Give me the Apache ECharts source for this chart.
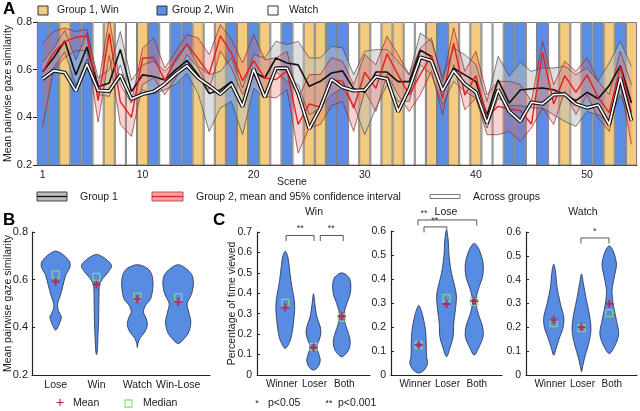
<!DOCTYPE html>
<html><head><meta charset="utf-8">
<script src="https://cdn.jsdelivr.net/npm/echarts@6/dist/echarts.min.js"></script>
<style>html,body{margin:0;padding:0;background:#fff}#c{width:640px;height:411px}</style>
</head><body><div id="c"></div>
<script>
// ---------- Panel A data ----------
const scenes = ['1','2','3','4','5','6','7','8','9','10','11','12','13','14','15','16','17','18','19','20','21','22','23','24','25','26','27','28','29','30','31','32','33','34','35','36','37','38','39','40','41','42','43','44','45','46','47','48','49','50','51','52','53','54'];
// Y = Group 1 win, B = Group 2 win, W = watch
const sceneType = ['B','B','Y','B','B','W','Y','W','W','Y','B','W','B','B','Y','W','Y','B','Y','B','Y','W','B','W','Y','Y','B','B','W','Y','W','Y','Y','W','W','Y','B','Y','W','Y','W','W','B','B','W','B','W','Y','W','B','B','Y','B','Y'];
const g1Mean = [0.59,0.65,0.72,0.578,0.695,0.528,0.544,0.685,0.508,0.578,0.571,0.557,0.6,0.638,0.58,0.5,0.515,0.55,0.455,0.59,0.565,0.649,0.628,0.62,0.53,0.551,0.586,0.595,0.52,0.505,0.59,0.59,0.55,0.55,0.682,0.655,0.515,0.606,0.578,0.55,0.41,0.557,0.46,0.515,0.52,0.523,0.516,0.495,0.47,0.505,0.478,0.533,0.617,0.46];
const g1Upper = [0.63,0.69,0.765,0.64,0.755,0.565,0.6,0.76,0.555,0.62,0.635,0.595,0.635,0.705,0.615,0.58,0.593,0.649,0.523,0.663,0.649,0.719,0.705,0.719,0.649,0.649,0.698,0.691,0.579,0.677,0.684,0.684,0.635,0.579,0.754,0.719,0.565,0.691,0.663,0.621,0.467,0.656,0.572,0.63,0.593,0.607,0.607,0.614,0.579,0.607,0.551,0.628,0.719,0.614];
const g1Lower = [0.55,0.61,0.675,0.535,0.645,0.495,0.488,0.62,0.465,0.515,0.5,0.515,0.54,0.585,0.5,0.34,0.44,0.467,0.327,0.523,0.481,0.593,0.551,0.537,0.411,0.439,0.495,0.523,0.453,0.327,0.439,0.537,0.467,0.467,0.621,0.579,0.453,0.551,0.509,0.481,0.355,0.481,0.45,0.45,0.44,0.44,0.41,0.383,0.362,0.425,0.411,0.383,0.495,0.383];
const g2Mean = [0.59,0.672,0.718,0.736,0.742,0.47,0.752,0.466,0.4,0.648,0.652,0.554,0.645,0.707,0.645,0.582,0.742,0.669,0.554,0.638,0.565,0.558,0.596,0.37,0.456,0.443,0.557,0.552,0.438,0.589,0.522,0.666,0.578,0.494,0.58,0.659,0.48,0.711,0.493,0.575,0.4,0.446,0.435,0.428,0.372,0.672,0.456,0.575,0.505,0.578,0.484,0.42,0.614,0.42];
const g2Upper = [0.71,0.76,0.775,0.76,0.77,0.53,0.817,0.537,0.46,0.69,0.733,0.607,0.677,0.747,0.733,0.663,0.789,0.726,0.628,0.747,0.642,0.649,0.677,0.481,0.579,0.58,0.65,0.635,0.537,0.663,0.621,0.74,0.663,0.579,0.691,0.733,0.551,0.775,0.593,0.677,0.495,0.551,0.551,0.537,0.467,0.719,0.537,0.635,0.593,0.649,0.551,0.495,0.677,0.537];
const g2Lower = [0.36,0.6,0.65,0.68,0.68,0.38,0.66,0.37,0.32,0.537,0.565,0.495,0.565,0.663,0.607,0.516,0.677,0.607,0.495,0.579,0.488,0.481,0.516,0.25,0.355,0.37,0.45,0.467,0.341,0.509,0.425,0.579,0.495,0.425,0.495,0.593,0.411,0.621,0.432,0.481,0.327,0.327,0.341,0.3,0.355,0.439,0.37,0.509,0.411,0.495,0.397,0.341,0.537,0.286];
const acrossMean = [0.561,0.596,0.588,0.51,0.624,0.513,0.51,0.578,0.477,0.497,0.508,0.54,0.582,0.617,0.565,0.533,0.497,0.54,0.445,0.603,0.484,0.606,0.606,0.5,0.352,0.44,0.56,0.526,0.512,0.515,0.571,0.561,0.424,0.52,0.652,0.637,0.512,0.596,0.54,0.505,0.375,0.516,0.425,0.383,0.463,0.456,0.495,0.497,0.456,0.44,0.452,0.37,0.565,0.386];
const aTicks = [0.2,0.4,0.6,0.8];

// ---------- Panel B data ----------
const bCategories = ['Lose','Win','Watch','Win-Lose'];
const bMean = [0.592,0.58,0.518,0.507];
const bMedian = [0.622,0.612,0.529,0.526];
// violin outlines: [value, half-width in category units]
const bProfiles = [
  [[0.72,0],[0.702,0.2],[0.674,0.343],[0.653,0.35],[0.618,0.245],[0.576,0.18],[0.534,0.114],[0.505,0.057],[0.485,0.045],[0.465,0.08],[0.443,0.14],[0.422,0.106],[0.405,0.065],[0.388,0]],
  [[0.706,0],[0.69,0.2],[0.66,0.37],[0.632,0.29],[0.604,0.15],[0.583,0.08],[0.562,0.065],[0.492,0.057],[0.422,0.05],[0.353,0.033],[0.297,0.016],[0.285,0]],
  [[0.663,0],[0.646,0.26],[0.618,0.36],[0.576,0.384],[0.52,0.327],[0.492,0.2],[0.464,0.15],[0.436,0.22],[0.408,0.245],[0.38,0.18],[0.353,0.06],[0.332,0.016],[0.315,0]],
  [[0.663,0],[0.646,0.2],[0.618,0.343],[0.583,0.375],[0.541,0.33],[0.499,0.22],[0.464,0.26],[0.422,0.31],[0.38,0.26],[0.353,0.15],[0.332,0]]
];

// ---------- Panel C data ----------
const cCategories = ['Winner','Loser','Both'];
const cTitles = ['Win','Lose','Watch'];
const cWinMean = [0.33,0.135,0.287];
const cWinMedian = [0.353,0.138,0.281];
const cLoseMean = [0.125,0.296,0.308];
const cLoseMedian = [0.125,0.32,0.305];
const cWatchMean = [0.232,0.2,0.299];
const cWatchMedian = [0.218,0.197,0.26];
const cWinProfiles = [
  [[0.606,0],[0.577,0.095],[0.528,0.143],[0.463,0.2],[0.415,0.26],[0.366,0.32],[0.317,0.333],[0.268,0.3],[0.22,0.26],[0.171,0.18],[0.13,0]],
  [[0.398,0],[0.35,0.048],[0.285,0.12],[0.236,0.238],[0.203,0.26],[0.171,0.2],[0.138,0.12],[0.106,0.18],[0.073,0.24],[0.041,0.167],[0.024,0]],
  [[0.5,0],[0.48,0.24],[0.447,0.32],[0.398,0.3],[0.35,0.18],[0.3,0.083],[0.252,0.12],[0.203,0.24],[0.163,0.3],[0.122,0.24],[0.089,0]]
];
const cLoseProfiles = [
  [[0.29,0],[0.257,0.12],[0.19,0.24],[0.132,0.27],[0.076,0.28],[0.049,0.32],[0.021,0.2],[0.008,0]],
  [[0.604,0],[0.5625,0.06],[0.493,0.096],[0.424,0.18],[0.368,0.3],[0.326,0.36],[0.271,0.32],[0.215,0.26],[0.16,0.24],[0.118,0.14],[0.076,0]],
  [[0.549,0],[0.521,0.18],[0.465,0.32],[0.41,0.3],[0.354,0.14],[0.306,0.06],[0.257,0.14],[0.201,0.3],[0.16,0.32],[0.118,0.18],[0.083,0]]
];
const cWatchProfiles = [
  [[0.465,0],[0.4375,0.06],[0.368,0.12],[0.299,0.24],[0.243,0.36],[0.201,0.34],[0.16,0.22],[0.118,0.1],[0.083,0]],
  [[0.424,0],[0.382,0.07],[0.3125,0.18],[0.243,0.3],[0.1875,0.34],[0.132,0.26],[0.076,0.12],[0.035,0.04],[0.014,0]],
  [[0.542,0],[0.521,0.14],[0.465,0.26],[0.41,0.18],[0.354,0.1],[0.299,0.14],[0.229,0.26],[0.174,0.34],[0.132,0.24],[0.09,0]]
];
// significance brackets: [x1, x2, y, labelX, label]
const cWinBrackets = [[1.03,2.02,0.683,1.53,'**'],[2.24,3.05,0.683,2.63,'**']];
const cLoseBrackets = [[0.97,3.09,0.646,1.19,'**'],[1.19,2.01,0.617,1.58,'**']];
const cWatchBrackets = [[1.98,2.99,0.575,2.48,'*']];

// ---------- styling ----------
const FONT = '"Liberation Sans", Arial, Helvetica, sans-serif';
const TXT = '#1a1a1a';
const typeColor = {Y:'#F2CB7E', B:'#5A8DE4', W:'#FFFFFF'};
const VIOLIN_FILL = '#578CE2', VIOLIN_STROKE = '#1e2d4a';
const fmt = v => Math.abs(v) < 1e-9 ? '0' : v.toFixed(1);
const labelNudge = [-3.5, 1, 2.5]; // px, spreads the crowded category labels

const chart = echarts.init(document.getElementById('c'), null, {renderer:'canvas'});

function violinSeries(profiles, xi, yi, xs) {
  return {
    type:'custom', xAxisIndex:xi, yAxisIndex:yi, z:3,
    data: xs.map((x,i)=>[x, profiles[i][0][0]]),
    encode:{x:0,y:1},
    renderItem(params, api) {
      const prof = profiles[params.dataIndex];
      const x = api.value(0);
      const right = prof.map(p => api.coord([x + p[1], p[0]]));
      const left = prof.slice(1,-1).reverse().map(p => api.coord([x - p[1], p[0]]));
      return {type:'polygon', shape:{points:right.concat(left), smooth:0.3},
        style:{fill:VIOLIN_FILL, stroke:VIOLIN_STROKE, lineWidth:0.8}};
    }
  };
}
const PLUS = 'path://M3,0H5V3H8V5H5V8H3V5H0V3H3Z';
function medianSeries(vals, xi, yi) {
  return {type:'scatter', xAxisIndex:xi, yAxisIndex:yi, z:4, symbol:'rect', symbolSize:7,
    data: vals.map((v,i)=>[i+1, v]),
    itemStyle:{color:'rgba(0,0,0,0)', borderColor:'#8fe37a', borderWidth:1.3}, silent:true};
}
function meanSeries(vals, xi, yi) {
  return {type:'scatter', xAxisIndex:xi, yAxisIndex:yi, z:5, symbol:PLUS, symbolSize:8,
    data: vals.map((v,i)=>[i+1, v]), itemStyle:{color:'#c4123f'}, silent:true};
}
function bracketSeries(brackets, xi, yi) {
  return {type:'custom', xAxisIndex:xi, yAxisIndex:yi, z:6, clip:false,
    data: brackets.map(b=>[b[0], b[2]]), encode:{x:0,y:1},
    renderItem(params, api) {
      const b = brackets[params.dataIndex];
      const p1 = api.coord([b[0], b[2]]), p2 = api.coord([b[1], b[2]]);
      const pl = api.coord([b[3], b[2]]);
      return {type:'group', children:[
        {type:'polyline', shape:{points:[[p1[0],p1[1]+5.5],[p1[0],p1[1]],[p2[0],p2[1]],[p2[0],p2[1]+5.5]]},
          style:{stroke:'#555', lineWidth:1, fill:null}},
        {type:'text', style:{text:b[4], x:pl[0], y:p1[1]-2, align:'center', verticalAlign:'bottom',
          font:'9px '+FONT, fill:'#333'}}
      ]};
    }
  };
}
// category labels under the C subplots, placed through the axis scale
function catLabelSeries(cats, xi, yi) {
  return {type:'custom', xAxisIndex:xi, yAxisIndex:yi, z:6, clip:false, silent:true,
    data: cats.map((c,i)=>[i+1, 0]), encode:{x:0,y:1},
    renderItem(params, api) {
      const p = api.coord([api.value(0), api.value(1)]);
      return {type:'text', style:{text:cats[params.dataIndex], x:p[0] + labelNudge[params.dataIndex], y:p[1]+4.5,
        align:'center', verticalAlign:'top', font:'10px '+FONT, fill:TXT}};
    }
  };
}

function valueX(gi, min, max, cats, vals, fs, showLabels) {
  return {type:'value', gridIndex:gi, min, max,
    axisLine:{show:true, onZero:false, lineStyle:{color:'#222', width:1.2}},
    axisTick:{show:false}, splitLine:{show:false},
    axisLabel:{show:showLabels, customValues:vals, showMinLabel:true, showMaxLabel:true, hideOverlap:false,
      color:TXT, fontSize:fs, fontFamily:FONT, margin:5,
      formatter:v=>{const n=Math.round(v); return (Math.abs(v-n)<1e-6 && cats[n-1]) || '';}}};
}
function valueY(gi, min, max, name, gap, fs) {
  return {type:'value', gridIndex:gi, min, max, interval:0.1,
    name, nameLocation:'middle', nameGap:gap, nameMoveOverlap:false,
    nameTextStyle:{color:TXT, fontSize:10.5, fontFamily:FONT},
    axisLine:{show:true, onZero:false, lineStyle:{color:'#222', width:1.2}},
    axisTick:{show:true, inside:true, length:3, lineStyle:{color:'#222'}},
    splitLine:{show:false},
    axisLabel:{color:TXT, fontSize:fs, fontFamily:FONT, margin:5, formatter:fmt}};
}

const diff = (u,l) => u.map((v,i)=>+(v - l[i]).toFixed(4));

const option = {
  animation:false,
  backgroundColor:'#fff',
  textStyle:{fontFamily:FONT},
  grid:[
    {left:37, top:22, width:600, height:143, outerBoundsMode:'none'},
    {left:32, top:232, width:178, height:143, outerBoundsMode:'none'},
    {left:257, top:232, width:113, height:143, outerBoundsMode:'none'},
    {left:391, top:231, width:111, height:144, outerBoundsMode:'none'},
    {left:526, top:232, width:111, height:143, outerBoundsMode:'none'}
  ],
  xAxis:[
    {type:'category', gridIndex:0, data:scenes, boundaryGap:true,
      axisLine:{show:true, onZero:false, lineStyle:{color:'#222', width:1.2}}, axisTick:{show:false},
      axisLabel:{interval:(i)=> i===0 || (i+1)%10===0, color:TXT, fontSize:10.5, fontFamily:FONT, margin:5}},
    valueX(1, 0.42, 4.78, bCategories, [1,2,3,4], 10.5, true),
    valueX(2, 0, 4, cCategories, [1,2,3], 10, false),
    valueX(3, 0, 4, cCategories, [1,2,3], 10, false),
    valueX(4, 0, 4, cCategories, [1,2,3], 10, false)
  ],
  yAxis:[
    {type:'value', gridIndex:0, min:0.2, max:0.8, interval:0.2,
      name:'Mean pairwise gaze similarity', nameLocation:'middle', nameGap:23, nameMoveOverlap:false,
      nameTextStyle:{color:TXT, fontSize:10.5, fontFamily:FONT},
      axisLine:{show:true, onZero:false, lineStyle:{color:'#222', width:1.2}},
      axisTick:{show:true, length:4, lineStyle:{color:'#222'}}, splitLine:{show:false},
      axisLabel:{color:TXT, fontSize:11, fontFamily:FONT, margin:5, formatter:fmt}},
    {type:'value', gridIndex:1, min:0.2, max:0.8, interval:0.2,
      name:'Mean pairwise gaze similarity', nameLocation:'middle', nameGap:18, nameMoveOverlap:false,
      nameTextStyle:{color:TXT, fontSize:10.5, fontFamily:FONT},
      axisLine:{show:true, onZero:false, lineStyle:{color:'#222', width:1.2}},
      axisTick:{show:true, inside:true, length:3, lineStyle:{color:'#222'}}, splitLine:{show:false},
      axisLabel:{color:TXT, fontSize:11, fontFamily:FONT, margin:4, formatter:fmt}},
    valueY(2, 0, 0.7, 'Percentage of time viewed', 19, 10.5),
    valueY(3, 0, 0.6, '', 0, 10.5),
    valueY(4, 0, 0.6, '', 0, 10.5)
  ],
  series:[
    // scene background bars
    {type:'bar', xAxisIndex:0, yAxisIndex:0, barWidth:'100%', silent:true, z:1,
      data: sceneType.map(t=>({value:aTicks[aTicks.length-1], itemStyle:{color:typeColor[t]}})),
      itemStyle:{borderColor:'#808080', borderWidth:1}},
    // Group 1 CI band
    {type:'line', xAxisIndex:0, yAxisIndex:0, stack:'g1', data:g1Lower, symbol:'none', silent:true, z:2,
      lineStyle:{color:'#4a4a4a', width:0.7}},
    {type:'line', xAxisIndex:0, yAxisIndex:0, stack:'g1', data:diff(g1Upper,g1Lower), symbol:'none', silent:true, z:2,
      lineStyle:{color:'#4a4a4a', width:0.7}, areaStyle:{color:'rgba(190,190,190,0.72)'}},
    // Group 2 CI band
    {type:'line', xAxisIndex:0, yAxisIndex:0, stack:'g2', data:g2Lower, symbol:'none', silent:true, z:2,
      lineStyle:{color:'#8e2a2a', width:0.7}},
    {type:'line', xAxisIndex:0, yAxisIndex:0, stack:'g2', data:diff(g2Upper,g2Lower), symbol:'none', silent:true, z:2,
      lineStyle:{color:'#8e2a2a', width:0.7}, areaStyle:{color:'rgba(232,100,100,0.42)'}},
    // means
    {type:'line', xAxisIndex:0, yAxisIndex:0, data:g1Mean, symbol:'none', silent:true, z:3,
      lineStyle:{color:'#111', width:1.6}},
    {type:'line', xAxisIndex:0, yAxisIndex:0, data:g2Mean, symbol:'none', silent:true, z:3,
      lineStyle:{color:'#e3211c', width:1.4}},
    {type:'line', xAxisIndex:0, yAxisIndex:0, data:acrossMean, symbol:'none', silent:true, z:4,
      lineStyle:{color:'#111', width:3.8}},
    {type:'line', xAxisIndex:0, yAxisIndex:0, data:acrossMean, symbol:'none', silent:true, z:4,
      lineStyle:{color:'#fff', width:1.6}},
    // Panel B
    violinSeries(bProfiles, 1, 1, [1,2,3,4]),
    medianSeries(bMedian, 1, 1), meanSeries(bMean, 1, 1),
    // Panel C
    violinSeries(cWinProfiles, 2, 2, [1,2,3]),
    medianSeries(cWinMedian, 2, 2), meanSeries(cWinMean, 2, 2), bracketSeries(cWinBrackets, 2, 2),
    catLabelSeries(cCategories, 2, 2),
    violinSeries(cLoseProfiles, 3, 3, [1,2,3]),
    medianSeries(cLoseMedian, 3, 3), meanSeries(cLoseMean, 3, 3), bracketSeries(cLoseBrackets, 3, 3),
    catLabelSeries(cCategories, 3, 3),
    violinSeries(cWatchProfiles, 4, 4, [1,2,3]),
    medianSeries(cWatchMedian, 4, 4), meanSeries(cWatchMean, 4, 4), bracketSeries(cWatchBrackets, 4, 4),
    catLabelSeries(cCategories, 4, 4)
  ],
  graphic:[
    {type:'text', left:3, top:1, style:{text:'A', font:'bold 17px '+FONT, fill:'#000'}},
    {type:'text', left:3, top:212, style:{text:'B', font:'bold 17px '+FONT, fill:'#000'}},
    {type:'text', left:213, top:212, style:{text:'C', font:'bold 17px '+FONT, fill:'#000'}},
    // top legend
    {type:'rect', shape:{x:38,y:6,width:10,height:9}, style:{fill:typeColor.Y, stroke:'#333', lineWidth:1}},
    {type:'text', x:57, y:10.5, style:{text:'Group 1, Win', font:'10.5px '+FONT, fill:TXT, verticalAlign:'middle'}},
    {type:'rect', shape:{x:157,y:6,width:10,height:9}, style:{fill:typeColor.B, stroke:'#333', lineWidth:1}},
    {type:'text', x:172, y:10.5, style:{text:'Group 2, Win', font:'10.5px '+FONT, fill:TXT, verticalAlign:'middle'}},
    {type:'rect', shape:{x:268,y:6,width:10,height:9}, style:{fill:'#fff', stroke:'#333', lineWidth:1}},
    {type:'text', x:289, y:10.5, style:{text:'Watch', font:'10.5px '+FONT, fill:TXT, verticalAlign:'middle'}},
    // scene label
    {type:'text', x:292, y:182, style:{text:'Scene', font:'10.5px '+FONT, fill:TXT, align:'center', verticalAlign:'middle'}},
    // second legend
    {type:'rect', shape:{x:37,y:192,width:30,height:9}, style:{fill:'#bdbdbd', stroke:'#444', lineWidth:1}},
    {type:'line', shape:{x1:37,y1:196.5,x2:67,y2:196.5}, style:{stroke:'#111', lineWidth:1.3}},
    {type:'text', x:80, y:197, style:{text:'Group 1', font:'10.5px '+FONT, fill:TXT, verticalAlign:'middle'}},
    {type:'rect', shape:{x:152,y:192,width:31,height:9}, style:{fill:'#f3a3a3', stroke:'#c84a4a', lineWidth:1}},
    {type:'line', shape:{x1:152,y1:196.5,x2:183,y2:196.5}, style:{stroke:'#e3211c', lineWidth:1.3}},
    {type:'text', x:196, y:197, style:{text:'Group 2, mean and 95% confidence interval', font:'10.5px '+FONT, fill:TXT, verticalAlign:'middle'}},
    {type:'rect', shape:{x:430,y:194.5,width:30,height:4}, style:{fill:'#fff', stroke:'#777', lineWidth:1}},
    {type:'text', x:473, y:197, style:{text:'Across groups', font:'10.5px '+FONT, fill:TXT, verticalAlign:'middle'}},
    // C titles
    {type:'text', x:314, y:212, style:{text:cTitles[0], font:'10.5px '+FONT, fill:TXT, align:'center', verticalAlign:'middle'}},
    {type:'text', x:446, y:212, style:{text:cTitles[1], font:'10.5px '+FONT, fill:TXT, align:'center', verticalAlign:'middle'}},
    {type:'text', x:583, y:212, style:{text:cTitles[2], font:'10.5px '+FONT, fill:TXT, align:'center', verticalAlign:'middle'}},
    // B legend
    {type:'text', x:60, y:403, style:{text:'+', font:'14px '+FONT, fill:'#c4123f', align:'center', verticalAlign:'middle'}},
    {type:'text', x:73, y:403, style:{text:'Mean', font:'10.5px '+FONT, fill:TXT, verticalAlign:'middle'}},
    {type:'rect', shape:{x:125,y:400,width:7,height:7}, style:{fill:'none', stroke:'#8fe37a', lineWidth:1.3}},
    {type:'text', x:143, y:403, style:{text:'Median', font:'10.5px '+FONT, fill:TXT, verticalAlign:'middle'}},
    // C legend
    {type:'text', x:257, y:404, style:{text:'*', font:'9px '+FONT, fill:TXT, align:'center', verticalAlign:'middle'}},
    {type:'text', x:268, y:403, style:{text:'p<0.05', font:'10.5px '+FONT, fill:TXT, verticalAlign:'middle'}},
    {type:'text', x:329, y:404, style:{text:'**', font:'9px '+FONT, fill:TXT, align:'center', verticalAlign:'middle'}},
    {type:'text', x:338, y:403, style:{text:'p<0.001', font:'10.5px '+FONT, fill:TXT, verticalAlign:'middle'}}
  ]
};
chart.setOption(option);
</script>
</body></html>
